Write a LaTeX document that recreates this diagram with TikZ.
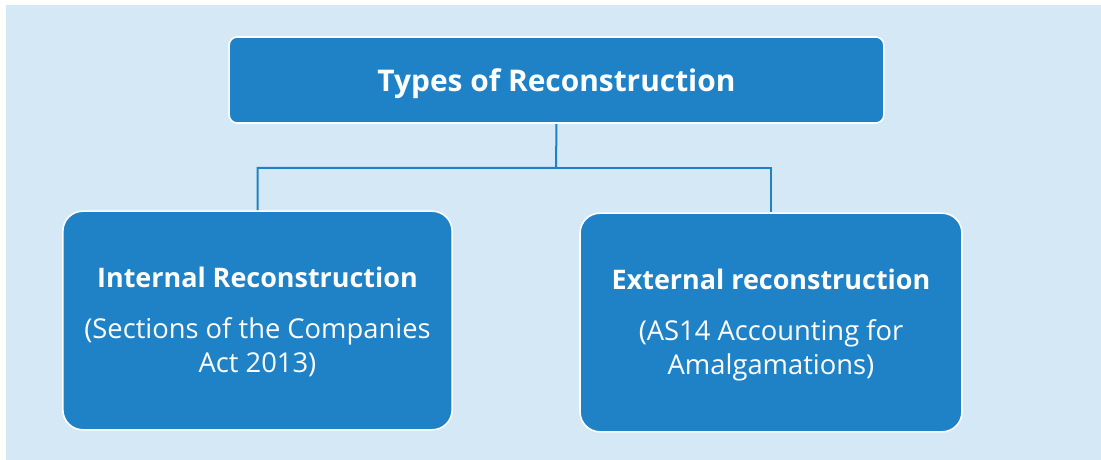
\documentclass[tikz,border=0pt]{standalone}
\usepackage{fontspec}
\setmainfont{Open Sans}
\usepackage{tikz}
\usetikzlibrary{positioning, backgrounds}

\definecolor{boxblue}{HTML}{1F82C7}
\definecolor{paleblue}{HTML}{D4E8F6}

\tikzset{
  typebox/.style={draw=white, line width=1.2pt, fill=boxblue, text=white,
    rounded corners=#1, align=center, inner sep=0pt,
    font=\fontsize{20.5}{25.8}\selectfont},
  link/.style={draw=boxblue, line width=1.5pt}
}
\newcommand{\boxhead}[1]{{\bfseries\fontsize{20.2}{25.5}\selectfont #1}}

\begin{document}
\begin{tikzpicture}[x=0.75pt, y=-0.75pt]
\useasboundingbox (0,0) rectangle (1101,460);

\node[typebox=6pt, minimum width=491pt, minimum height=64.5pt] (types) at (556.5,80)
  {\boxhead{\fontsize{22.4}{26}\selectfont\rule{0pt}{22.5pt}Types of Reconstruction}};

\node[typebox=15pt, minimum width=292pt, minimum height=164pt] (internal) at (257.5,320.5)
  {\boxhead{\rule{0pt}{17.7pt}Internal Reconstruction}\\[12pt]
   (Sections of the Companies\\
   Act 2013)};

\node[typebox=15pt, minimum width=286.5pt, minimum height=164pt] (external) at (771,322.5)
  {\boxhead{\rule{0pt}{19.5pt}External reconstruction}\\[12pt]
   (AS14 Accounting for\\
   Amalgamations)};

% tree lines
\coordinate (fork) at (556,168);
\begin{scope}[on background layer]
\fill[paleblue] (6,5) rectangle (1101,460);
\draw[link] (types.south) -- (fork) -| (internal.north);
\draw[link] (fork) -| (external.north);
\end{scope}
\end{tikzpicture}
\end{document}
